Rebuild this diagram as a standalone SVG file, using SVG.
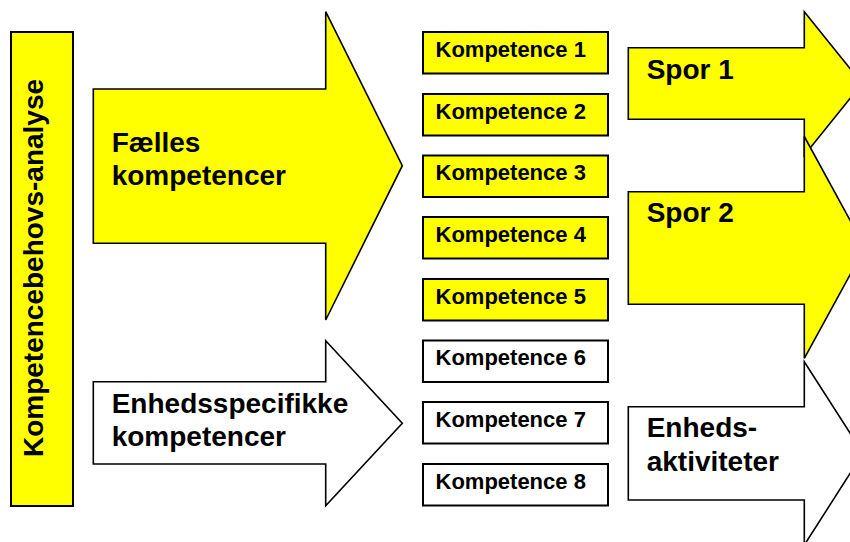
<svg xmlns="http://www.w3.org/2000/svg" width="850" height="542" viewBox="0 0 850 542">
<style>
.y{fill:#FFFF00}
.w{fill:#FFFFFF}
.arr{stroke:#000;stroke-width:1.6;stroke-linejoin:miter}
.box{stroke:#000;stroke-width:2}
.big{font-family:"Liberation Sans",Arial,sans-serif;font-weight:bold;font-size:28px;fill:#000}
.sm{font-family:"Liberation Sans",Arial,sans-serif;font-weight:bold;font-size:22px;fill:#000}
</style>
<rect width="850" height="542" fill="#FFFFFF"/>
<g id="analyse">
<rect class="y box" x="11" y="32" width="62" height="474"/>
<text class="big" text-anchor="middle" transform="translate(43,268) rotate(-90)">Kompetencebehovs-analyse</text>
</g>
<g id="arrows">
<g id="faelles">
<polygon class="y arr" points="93.3,89 325.7,89 325.7,11.7 402.3,165.7 325.7,320 325.7,243.3 93.3,243.3"/>
<text class="big" x="111.7" y="151.7">Fælles</text>
<text class="big" x="111.7" y="185">kompetencer</text>
</g>
<g id="enhedsspecifikke">
<polygon class="w arr" points="93.3,381.7 325.7,381.7 325.7,340.7 402.3,423.3 325.7,505.7 325.7,464 93.3,464"/>
<text class="big" x="111.7" y="412.7">Enhedsspecifikke</text>
<text class="big" x="111.7" y="445.7">kompetencer</text>
</g>
<g id="spor1">
<polygon class="y arr" points="628.3,47.7 804.3,47.7 804.3,11.7 862,83.5 804.3,155.3 804.3,119.3 628.3,119.3"/>
<text class="big" x="646.7" y="79">Spor 1</text>
</g>
<g id="spor2">
<polygon class="y arr" points="628.3,191.7 804.3,191.7 804.3,136.5 865,247.5 804.3,358.3 804.3,304.3 628.3,304.3"/>
<text class="big" x="646.7" y="221.7">Spor 2</text>
</g>
<g id="enhedsaktiviteter">
<polygon class="w arr" points="628.3,406.7 804.3,406.7 804.3,361.7 863,453.3 804.3,545 804.3,500 628.3,500"/>
<text class="big" x="646.7" y="437.3">Enheds-</text>
<text class="big" x="646.7" y="471">aktiviteter</text>
</g>
</g>
<g id="k1"><rect class="y box" x="423" y="32" width="185" height="41.5"/><text class="sm" x="435.5" y="56.7">Kompetence 1</text></g>
<g id="k2"><rect class="y box" x="423" y="94" width="185" height="41.5"/><text class="sm" x="435.5" y="118.7">Kompetence 2</text></g>
<g id="k3"><rect class="y box" x="423" y="155.5" width="185" height="41.5"/><text class="sm" x="435.5" y="180.2">Kompetence 3</text></g>
<g id="k4"><rect class="y box" x="423" y="217" width="185" height="41.5"/><text class="sm" x="435.5" y="241.7">Kompetence 4</text></g>
<g id="k5"><rect class="y box" x="423" y="279" width="185" height="41.5"/><text class="sm" x="435.5" y="303.7">Kompetence 5</text></g>
<g id="k6"><rect class="w box" x="423" y="340.5" width="185" height="41.5"/><text class="sm" x="435.5" y="365.2">Kompetence 6</text></g>
<g id="k7"><rect class="w box" x="423" y="402" width="185" height="41.5"/><text class="sm" x="435.5" y="426.7">Kompetence 7</text></g>
<g id="k8"><rect class="w box" x="423" y="464" width="185" height="41.5"/><text class="sm" x="435.5" y="488.7">Kompetence 8</text></g>
</svg>
